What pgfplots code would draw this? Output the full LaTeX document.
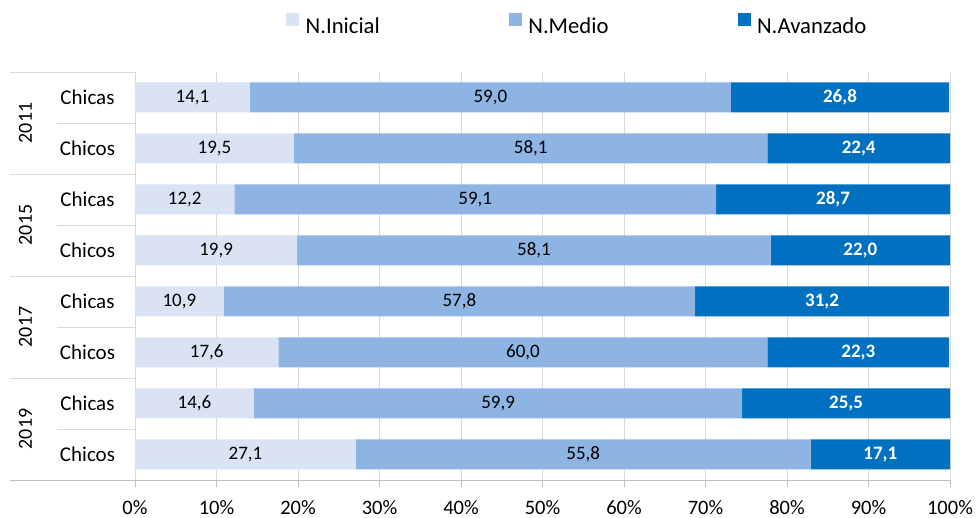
\documentclass[border=0pt]{standalone}
\usepackage{fontspec}
\setmainfont{Carlito}
\usepackage{pgfplots}
\usepackage{pgfplotstable}
\pgfplotsset{compat=1.18}

\definecolor{cIni}{HTML}{DAE3F3}
\definecolor{cMed}{HTML}{8EB4E3}
\definecolor{cAva}{HTML}{0070C0}
\definecolor{gridc}{HTML}{D9D9D9}
\definecolor{axc}{HTML}{BFBFBF}

% fila, N.Inicial, N.Medio, N.Avanzado
\pgfplotstableread{
row ini med ava
0 14.1 59.0 26.8
1 19.5 58.1 22.4
2 12.2 59.1 28.7
3 19.9 58.1 22.0
4 10.9 57.8 31.2
5 17.6 60.0 22.3
6 14.6 59.9 25.5
7 27.1 55.8 17.1
}\datos

\newcommand\fdat{\fontsize{19}{23}\selectfont}
\newcommand\ftick{\fontsize{20.5}{24}\selectfont}
\newcommand\fcat{\fontsize{21}{25}\selectfont}
\newcommand\fleg{\fontsize{22.7}{27}\selectfont}

\begin{document}
\begin{tikzpicture}[x=1pt,y=1pt]
\useasboundingbox (0,0) rectangle (978,518);
\begin{axis}[
  at={(135pt,38pt)}, anchor=south west,
  scale only axis, width=815pt, height=408pt,
  xbar stacked, bar width=30pt,
  xmin=0, xmax=100, ymin=-0.5, ymax=7.5, y dir=reverse,
  axis line style={draw=none},
  xtick={0,10,...,100}, xtick pos=bottom, tick align=outside,
  major tick length=7pt,
  xtick style={draw=axc, line width=0.8pt},
  xmajorgrids, grid style={gridc, line width=0.8pt},
  xticklabel={\pgfmathprintnumber[fixed, precision=0]{\tick}\%},
  xticklabel style={font=\ftick, inner sep=0pt, yshift=-13pt},
  ytick={0,...,7},
  yticklabels={Chicas,Chicos,Chicas,Chicos,Chicas,Chicos,Chicas,Chicos},
  ytick style={draw=none},
  yticklabel style={font=\fcat, anchor=center, xshift=-40.5pt},
  /pgf/number format/assume math mode=true,
  /pgf/number format/use comma,
  nodes near coords={\pgfmathprintnumber[fixed, fixed zerofill, precision=1]{\pgfplotspointmeta}},
  every node near coord/.append style={font=\fdat, anchor=center},
  legend columns=3,
  legend style={at={(0.1853,1.1176)}, anchor=west, draw=none, fill=none,
    inner sep=0pt, font=\fleg, nodes={inner sep=0pt},
    /tikz/every odd column/.append style={column sep=6.5pt},
    /tikz/every even column/.append style={column sep=129pt}},
  legend image code/.code={\fill[#1] (0pt,0.5pt) rectangle (13pt,13pt);},
]
\addplot[fill=cIni, draw=none] table[x=ini, y=row]{\datos};
\addplot[fill=cMed, draw=none] table[x=med, y=row]{\datos};
\addplot[fill=cAva, draw=none,
  every node near coord/.append style={text=white, font=\fdat\bfseries}]
  table[x=ava, y=row]{\datos};
\legend{N.Inicial,N.Medio,N.Avanzado}
\end{axis}
% separadores de categorias
\draw[gridc, line width=0.8pt] (10,446) -- (135,446);
\draw[gridc, line width=0.8pt] (57,395) -- (135,395);
\draw[gridc, line width=0.8pt] (10,344) -- (135,344);
\draw[gridc, line width=0.8pt] (57,293) -- (135,293);
\draw[gridc, line width=0.8pt] (10,242) -- (135,242);
\draw[gridc, line width=0.8pt] (57,191) -- (135,191);
\draw[gridc, line width=0.8pt] (10,140) -- (135,140);
\draw[gridc, line width=0.8pt] (57,89) -- (135,89);
\draw[axc, line width=0.8pt] (10,38) -- (950,38);
\foreach \yy/\an in {395/2011,293/2015,191/2017,89/2019}
  \node[rotate=90, font=\fontsize{20}{24}\selectfont] at (25.5,\yy) {\an};
\end{tikzpicture}
\end{document}
